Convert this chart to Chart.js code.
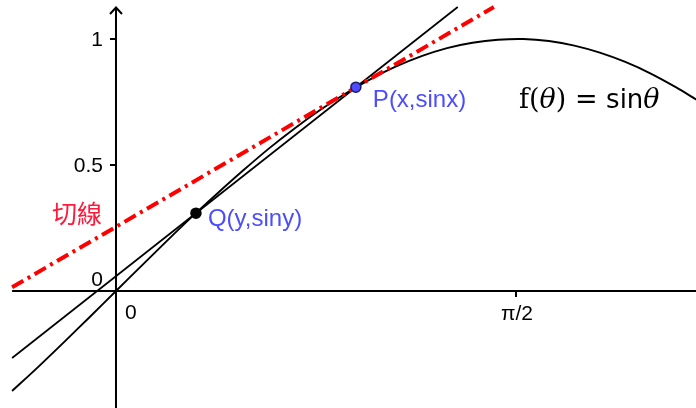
<!DOCTYPE html>
<html>
<head>
<meta charset="utf-8">
<script src="https://cdn.jsdelivr.net/npm/chart.js@4.4.1/dist/chart.umd.min.js"></script>
<style>
  body { margin: 0; background: #fff; }
  #wrap { width: 696px; height: 408px; }
</style>
</head>
<body>
<div id="wrap"><canvas id="myChart"></canvas></div>
<script>
// values
const thetaVals = [-0.408, -0.3, -0.2, -0.1, 0, 0.1, 0.2, 0.3, 0.4, 0.5, 0.6, 0.7, 0.8, 0.9, 1.0,
    1.1, 1.2, 1.3, 1.4, 1.5, 1.6, 1.7, 1.8, 1.9, 2.0, 2.1, 2.2, 2.28];
const sinVals = [-0.397, -0.296, -0.199, -0.100, 0, 0.100, 0.199, 0.296, 0.389, 0.479, 0.565, 0.644, 0.717, 0.783, 0.841,
    0.891, 0.932, 0.964, 0.985, 0.997, 1.000, 0.992, 0.974, 0.946, 0.909, 0.863, 0.808, 0.759];

const pointNames = ['P(x,sinx)', 'Q(y,siny)'];
const pointX = [0.942, 0.314];
const pointY = [0.809, 0.309];

const secantX = [-0.408, 1.342];
const secantY = [-0.266, 1.127];
const tangentX = [-0.408, 1.484];
const tangentY = [0.015, 1.127];

const yTicks = [0.5, 1];
const yTickLabels = ['0.5', '1'];
const xTicks = [1.5708];
const xTickLabels = ['π/2'];

function toXY(xs, ys) { return xs.map((x, i) => ({x: x, y: ys[i]})); }

const BLUE = '#4d4dff';
const RED = '#ff0000';
const labelOffsets = [[17, 13], [12, 6]]; // px offset of P / Q label

// axes, ticks and the text labels
const drawAxes = {
    id: 'drawAxes',
    beforeDatasetsDraw(chart) {
        const c = chart.ctx, xs = chart.scales.x, ys = chart.scales.y;
        const x0 = xs.getPixelForValue(0), y0 = ys.getPixelForValue(0);
        const left = xs.getPixelForValue(thetaVals[0]);
        c.save();
        c.strokeStyle = '#000';
        c.lineWidth = 2;
        c.beginPath();
        c.moveTo(left, y0); c.lineTo(chart.width, y0);
        c.moveTo(x0, 7); c.lineTo(x0, chart.height);
        c.stroke();
        // arrow on y axis
        c.beginPath();
        c.moveTo(x0 - 6, 14); c.lineTo(x0, 7.5); c.lineTo(x0 + 6, 14);
        c.stroke();
        // ticks
        c.beginPath();
        yTicks.forEach(v => { const p = ys.getPixelForValue(v); c.moveTo(x0 - 6, p); c.lineTo(x0, p); });
        xTicks.forEach(v => { const p = xs.getPixelForValue(v); c.moveTo(p, y0); c.lineTo(p, y0 + 6); });
        c.stroke();
        c.fillStyle = '#000';
        c.font = '21px "Liberation Sans", Arial, sans-serif';
        c.textBaseline = 'middle';
        c.textAlign = 'right';
        yTicks.forEach((v, i) => c.fillText(yTickLabels[i], x0 - 13, ys.getPixelForValue(v) + 1));
        c.fillText('0', x0 - 13, y0 - 11);
        c.textAlign = 'center';
        xTicks.forEach((v, i) => c.fillText(xTickLabels[i], xs.getPixelForValue(v) + 1, y0 + 23));
        c.textAlign = 'left';
        c.fillText('0', x0 + 9, y0 + 22);
        c.restore();
    },
    afterDatasetsDraw(chart) {
        const c = chart.ctx, xs = chart.scales.x, ys = chart.scales.y;
        c.save();
        c.textBaseline = 'middle';
        c.textAlign = 'left';
        c.fillStyle = BLUE;
        c.font = '24px "Liberation Sans", Arial, sans-serif';
        pointNames.forEach((t, i) => {
            c.fillText(t, xs.getPixelForValue(pointX[i]) + labelOffsets[i][0],
                ys.getPixelForValue(pointY[i]) + labelOffsets[i][1]);
        });
        // 切線 label
        c.fillStyle = '#ff1a3c';
        c.font = '25px "Noto Sans CJK TC", "Noto Sans CJK JP", sans-serif';
        c.fillText('切線', 52, 213);
        // f(θ) = sinθ
        const serif = '27px "DejaVu Serif", serif';
        const ital = 'italic 27px "DejaVu Serif", serif';
        const sans = '26px "DejaVu Sans", sans-serif';
        const parts = [['f', serif], ['(', serif], ['θ', ital], [')', serif], [' = ', serif], ['sin', sans], ['θ', ital]];
        let x = 519;
        c.fillStyle = '#000';
        parts.forEach(p => {
            c.font = p[1];
            c.fillText(p[0], x, 101);
            x += c.measureText(p[0]).width;
        });
        c.restore();
    }
};

var ctx = document.getElementById('myChart');
const chart = new Chart(ctx, {
    type: 'scatter',
    data: {
        datasets: [{
            label: 'points',
            data: toXY(pointX, pointY),
            showLine: false,
            pointRadius: 5,
            pointBackgroundColor: [BLUE, '#000'],
            pointBorderColor: ['#1a1a66', '#000'],
            pointBorderWidth: 1.5
        }, {
            label: 'tangent',
            data: toXY(tangentX, tangentY),
            showLine: true,
            borderColor: RED,
            borderWidth: 4,
            borderDash: [13, 5, 3, 5],
            pointRadius: 0
        }, {
            label: 'secant',
            data: toXY(secantX, secantY),
            showLine: true,
            borderColor: '#000',
            borderWidth: 1.7,
            pointRadius: 0
        }, {
            label: 'sin',
            data: toXY(thetaVals, sinVals),
            showLine: true,
            borderColor: '#000',
            borderWidth: 1.9,
            tension: 0.3,
            pointRadius: 0
        }]
    },
    options: {
        responsive: true,
        maintainAspectRatio: false,
        animation: false,
        layout: {padding: 0, autoPadding: false},
        plugins: {legend: {display: false}, tooltip: {enabled: false}},
        scales: {
            x: {type: 'linear', min: -0.4555, max: 2.2777, display: false},
            y: {type: 'linear', min: -0.4643, max: 1.1548, display: false}
        }
    },
    plugins: [drawAxes]
});
</script>
</body>
</html>
